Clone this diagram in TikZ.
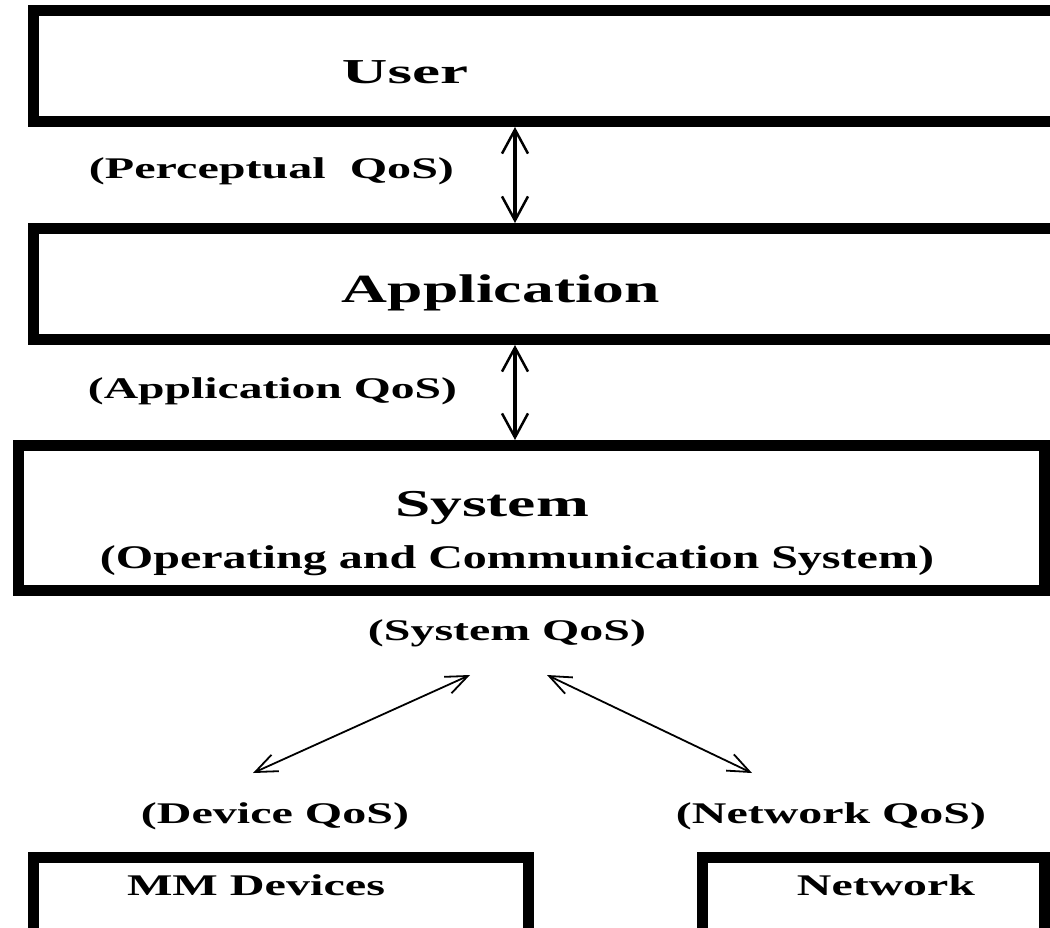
\documentclass[tikz,border=0pt]{standalone}
\usepackage{fontspec}
\setmainfont{Liberation Serif}
\usepackage{graphicx}
\usetikzlibrary{arrows.meta}
\newcommand{\fitt}[3]{\resizebox{#1pt}{\height}{\fontsize{#2}{#2}\selectfont\bfseries #3}}
\begin{document}
\begin{tikzpicture}[x=1pt,y=-1pt,
  layerbox/.style={draw=black, line width=11pt, fill=white, inner sep=0pt},
  lbl/.style={anchor=base, inner sep=0pt},
  varrow/.style={line width=3.5pt, {Straight Barb[length=24pt,width=26pt,line width=2.5pt]}-{Straight Barb[length=24pt,width=26pt,line width=2.5pt]}},
  darrow/.style={line width=1.8pt, {Straight Barb[length=22pt,width=18pt]}-{Straight Barb[length=22pt,width=18pt]}}]
\useasboundingbox (0,0) rectangle (1050,927);
\clip (0,0) rectangle (1050,927);
\fill[white] (0,0) rectangle (1050,927);

% boxes
\node[layerbox, minimum width=1066.5pt, minimum height=111pt] (user) at (566.75,66) {};
\node[layerbox, minimum width=1066.5pt, minimum height=111pt] (app) at (566.75,284) {};
\node[layerbox, minimum width=1026pt, minimum height=145pt] (sys) at (531.5,518) {};
\node[layerbox, minimum width=495pt, minimum height=102.5pt] (mm) at (281,908.75) {};
\node[layerbox, minimum width=342pt, minimum height=102.5pt] (net) at (873.5,908.75) {};

% texts
\node[lbl] (tuser) at (405,83) {\fitt{126}{35}{User}};
\node[lbl] (tperc) at (271.5,178) {\fitt{365}{30}{(Perceptual~~QoS)}};
\node[lbl] (tapp) at (501,302) {\fitt{318}{40}{Application}};
\node[lbl] (tappq) at (272.5,398) {\fitt{369}{30}{(Application QoS)}};
\node[lbl] (tsys) at (492,516) {\fitt{194}{38}{System}};
\node[lbl] (tops) at (517,568) {\fitt{834}{33}{(Operating and Communication System)}};
\node[lbl] (tsysq) at (507,640) {\fitt{278}{30}{(System QoS)}};
\node[lbl] (tdevq) at (275,823) {\fitt{268}{30}{(Device QoS)}};
\node[lbl] (tnetq) at (831,823) {\fitt{310}{30}{(Network QoS)}};
\node[lbl] (tmm) at (256,895) {\fitt{258}{30}{MM Devices}};
\node[lbl] (tnet) at (886,895) {\fitt{178}{30}{Network}};

% vertical connectors
\coordinate (ax) at (515,0);
\draw[varrow] (user.south -| ax) -- (app.north -| ax);
\draw[varrow] (app.south -| ax) -- (sys.north -| ax);

% diagonal connectors
\coordinate (s1) at (470,675);
\coordinate (d1) at (253,773);
\coordinate (s2) at (547,675);
\coordinate (n1) at (752,773);
\draw[darrow] (d1) -- (s1);
\draw[darrow] (s2) -- (n1);
\end{tikzpicture}
\end{document}
